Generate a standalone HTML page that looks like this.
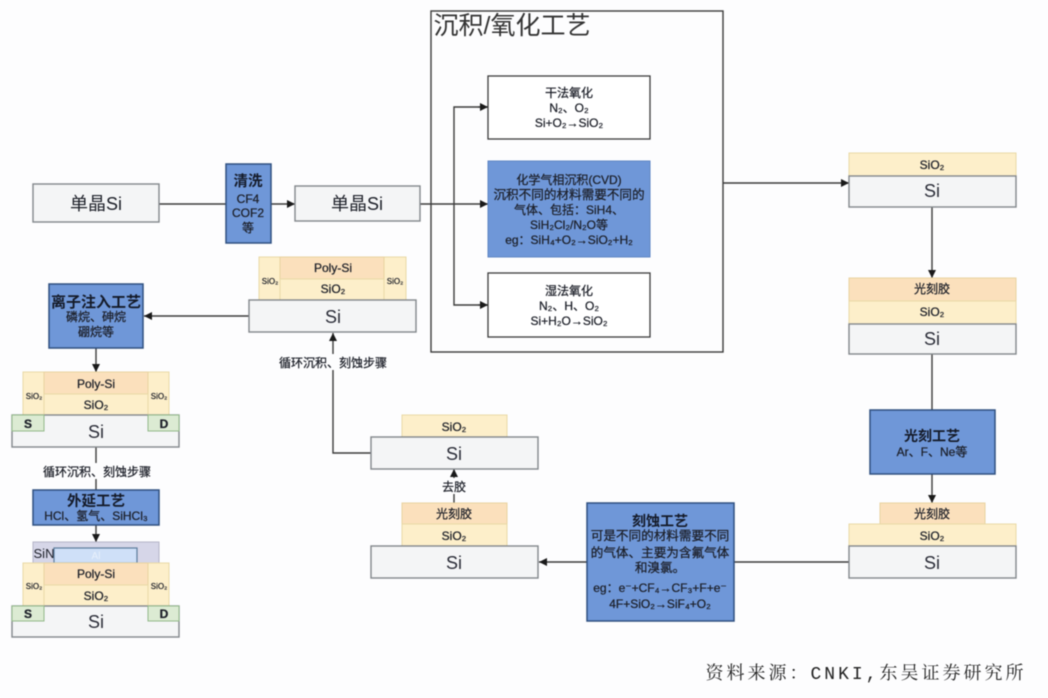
<!DOCTYPE html>
<html>
<head>
<meta charset="utf-8">
<style>
html,body{margin:0;padding:0;background:#fdfdfe}
svg{display:block;filter:blur(.6px)}
text{font-family:"Liberation Sans","Noto Sans CJK SC",sans-serif;text-anchor:middle;fill:#1c1f28}
.si{fill:#f4f5f6;stroke:#83878c;stroke-width:1.4}
.ox{fill:#fdefca;stroke:#e8d9a6;stroke-width:1}
.pr{fill:#fbe0bc;stroke:#e8d3a0;stroke-width:1}
.sd{fill:#dcebd3;stroke:#93b98a;stroke-width:1}
.bl{fill:#6f97d8;stroke:#2f5080;stroke-width:1.5}
.wh{fill:#fff;stroke:#3c3c3c;stroke-width:1.3}
.ln{fill:none;stroke:#3c3c3c;stroke-width:1.4}
.t13{font-size:13px}
.t11{font-size:12px;stroke:#1c1f28;stroke-width:.25}
.t125{font-size:12.6px;stroke:#1c1f28;stroke-width:.25}
.t10{font-size:10px}
.t8{font-size:8px;stroke:#1c1f28;stroke-width:.2}
.t18{font-size:18px;fill:#2b2d38}
.b{font-weight:bold;font-size:14px;fill:#141a28}
</style>
</head>
<body>
<svg width="1048" height="698" viewBox="0 0 1048 698" xmlns="http://www.w3.org/2000/svg">
<defs>
<marker id="a" markerWidth="9" markerHeight="8" refX="8" refY="4" orient="auto" markerUnits="userSpaceOnUse"><path d="M0 0L8 4L0 8Z" fill="#1a1a1a"/></marker>
</defs>
<rect width="1048" height="698" fill="#fdfdfe"/>

<!-- connectors -->
<path class="ln" d="M159 204H226"/>
<path class="ln" d="M271 204H295" marker-end="url(#a)"/>
<path class="ln" d="M420 204H488" marker-end="url(#a)"/>
<path class="ln" d="M488 107H454V305H488"/>
<path class="ln" d="M478 107H488" marker-end="url(#a)"/>
<path class="ln" d="M478 305H488" marker-end="url(#a)"/>
<path class="ln" d="M723 183H849" marker-end="url(#a)"/>
<path class="ln" d="M932 207V278" marker-end="url(#a)"/>
<path class="ln" d="M932 354V410"/>
<path class="ln" d="M932 474V503" marker-end="url(#a)"/>
<path class="ln" d="M849 562H734"/>
<path class="ln" d="M587 562H539" marker-end="url(#a)"/>
<path class="ln" d="M454 503V469" marker-end="url(#a)"/>
<path class="ln" d="M371 453H333V333" marker-end="url(#a)"/>
<path class="ln" d="M249 316H144" marker-end="url(#a)"/>
<path class="ln" d="M96 348V372" marker-end="url(#a)"/>
<path class="ln" d="M96 447V490"/>
<path class="ln" d="M96 525V542" marker-end="url(#a)"/>

<!-- top-left -->
<rect x="33" y="184" width="126" height="38" class="si"/>
<text x="96" y="210" font-size="18">单晶Si</text>
<rect x="226" y="164" width="45" height="79" class="bl"/>
<text x="248" y="186" class="b" style="font-size:14.5px">清洗</text>
<text x="248" y="203" class="t11">CF4</text>
<text x="248" y="217" class="t11">COF2</text>
<text x="248" y="232" class="t11">等</text>
<rect x="295" y="186" width="125" height="35" class="si"/>
<text x="357" y="210" font-size="18">单晶Si</text>

<!-- deposition -->
<rect x="431" y="11" width="292" height="341" fill="none" stroke="#3c3c3c" stroke-width="1.4"/>
<text x="512" y="34" font-size="25" style="fill:#333">沉积/氧化工艺</text>
<rect x="488" y="76" width="162" height="63" class="wh"/>
<text x="569" y="97" class="t11">干法氧化</text>
<text x="569" y="112" class="t11">N₂、O₂</text>
<text x="569" y="127" class="t11">Si+O₂→SiO₂</text>
<rect x="488" y="161" width="162" height="96" fill="#6f97d8" stroke="#5f86c4"/>
<text x="569" y="184" class="t11">化学气相沉积(CVD)</text>
<text x="569" y="199" class="t125">沉积不同的材料需要不同的</text>
<text x="569" y="214" class="t11">气体、包括：SiH4、</text>
<text x="569" y="229" class="t11">SiH₂Cl₂/N₂O等</text>
<text x="569" y="244" class="t11">eg：SiH₄+O₂→SiO₂+H₂</text>
<rect x="488" y="273" width="162" height="64" class="wh"/>
<text x="569" y="295" class="t11">湿法氧化</text>
<text x="569" y="310" class="t11">N₂、H、O₂</text>
<text x="569" y="325" class="t11">Si+H₂O→SiO₂</text>

<!-- right column -->
<rect x="849" y="153" width="167" height="23" class="ox"/>
<text x="932" y="169" class="t11">SiO₂</text>
<rect x="849" y="176" width="167" height="31" class="si"/>
<text x="932" y="197" class="t18">Si</text>

<rect x="849" y="278" width="167" height="23" class="pr"/>
<text x="932" y="293" class="t11">光刻胶</text>
<rect x="849" y="301" width="167" height="23" class="ox"/>
<text x="932" y="316" class="t11">SiO₂</text>
<rect x="849" y="324" width="167" height="30" class="si"/>
<text x="932" y="345" class="t18">Si</text>

<rect x="870" y="410" width="125" height="64" class="bl"/>
<text x="932" y="441" class="b">光刻工艺</text>
<text x="932" y="456" class="t11">Ar、F、Ne等</text>

<rect x="880" y="503" width="105" height="21" class="pr"/>
<text x="932" y="518" class="t11">光刻胶</text>
<rect x="849" y="524" width="167" height="22" class="ox"/>
<text x="932" y="540" class="t11">SiO₂</text>
<rect x="849" y="546" width="167" height="32" class="si"/>
<text x="932" y="569" class="t18">Si</text>

<!-- etch -->
<rect x="587" y="503" width="147" height="118" class="bl"/>
<text x="660" y="526" class="b">刻蚀工艺</text>
<text x="660" y="540" class="t125">可是不同的材料需要不同</text>
<text x="660" y="557" class="t125">的气体、主要为含氟气体</text>
<text x="660" y="572" class="t125">和溴氯。</text>
<text x="660" y="592" class="t11">eg：e⁻+CF₄→CF₃+F+e⁻</text>
<text x="660" y="608" class="t11">4F+SiO₂→SiF₄+O₂</text>

<!-- mid bottom stack -->
<rect x="402" y="503" width="105" height="21" class="pr"/>
<text x="454" y="518" class="t11">光刻胶</text>
<rect x="402" y="524" width="105" height="22" class="ox"/>
<text x="454" y="540" class="t11">SiO₂</text>
<rect x="371" y="546" width="167" height="32" class="si"/>
<text x="454" y="569" class="t18">Si</text>

<rect x="440" y="478" width="28" height="16" fill="#fdfdfe"/>
<text x="454" y="491" class="t11">去胶</text>

<rect x="402" y="415" width="105" height="22" class="ox"/>
<text x="454" y="431" class="t11">SiO₂</text>
<rect x="371" y="437" width="167" height="32" class="si"/>
<text x="454" y="460" class="t18">Si</text>

<rect x="275" y="354" width="116" height="16" fill="#fdfdfe"/>
<text x="333" y="367" class="t11">循环沉积、刻蚀步骤</text>

<!-- top mid stack -->
<rect x="259" y="257" width="21" height="43" class="ox"/>
<rect x="384" y="257" width="22" height="43" class="ox"/>
<rect x="280" y="257" width="104" height="22" class="pr"/>
<rect x="280" y="279" width="104" height="21" class="ox"/>
<text x="333" y="272" class="t11">Poly-Si</text>
<text x="333" y="293" class="t11">SiO₂</text>
<text x="270" y="284" class="t8">SiO₂</text>
<text x="395" y="284" class="t8">SiO₂</text>
<rect x="249" y="300" width="167" height="32" class="si"/>
<text x="333" y="323" class="t18">Si</text>

<!-- ion implant -->
<rect x="49" y="284" width="94" height="64" class="bl"/>
<text x="96" y="307" class="b" style="font-size:15px">离子注入工艺</text>
<text x="96" y="321" class="t11">磷烷、砷烷</text>
<text x="96" y="336" class="t11">硼烷等</text>

<!-- stack 1 -->
<rect x="23" y="372" width="21" height="43" class="ox"/>
<rect x="148" y="372" width="21" height="43" class="ox"/>
<rect x="44" y="372" width="104" height="22" class="pr"/>
<rect x="44" y="394" width="104" height="21" class="ox"/>
<text x="96" y="388" class="t11">Poly-Si</text>
<text x="96" y="409" class="t11">SiO₂</text>
<text x="34" y="399" class="t8">SiO₂</text>
<text x="159" y="399" class="t8">SiO₂</text>
<rect x="12" y="415" width="167" height="32" class="si"/>
<rect x="12" y="415" width="32" height="16" class="sd"/>
<rect x="148" y="415" width="31" height="16" class="sd"/>
<text x="28" y="428" class="t11" style="font-weight:bold">S</text>
<text x="164" y="428" class="t11" style="font-weight:bold">D</text>
<text x="96" y="438" class="t18">Si</text>

<rect x="38" y="463" width="116" height="16" fill="#fdfdfe"/>
<text x="97" y="476" class="t11">循环沉积、刻蚀步骤</text>

<!-- epi -->
<rect x="33" y="490" width="126" height="35" class="bl"/>
<text x="96" y="506" class="b" style="font-size:14.5px">外延工艺</text>
<text x="96" y="520" class="t11">HCl、氢气、SiHCl₃</text>

<rect x="33" y="542" width="126" height="21" fill="#d6d6e8" stroke="#b5b5c8"/>
<text x="44" y="558" class="t13">SiN</text>
<rect x="54" y="548" width="83" height="15" fill="#cfe0f8" stroke="#5c7c9c" stroke-width="1.2"/>
<text x="96" y="559" class="t10" style="fill:#e8f0fb">Al</text>

<!-- stack 2 -->
<rect x="23" y="563" width="21" height="43" class="ox"/>
<rect x="148" y="563" width="21" height="43" class="ox"/>
<rect x="44" y="563" width="104" height="22" class="pr"/>
<rect x="44" y="585" width="104" height="21" class="ox"/>
<text x="96" y="578" class="t11">Poly-Si</text>
<text x="96" y="600" class="t11">SiO₂</text>
<text x="34" y="589" class="t8">SiO₂</text>
<text x="159" y="589" class="t8">SiO₂</text>
<rect x="12" y="606" width="167" height="31" class="si"/>
<rect x="12" y="606" width="32" height="15" class="sd"/>
<rect x="148" y="606" width="31" height="15" class="sd"/>
<text x="28" y="618" class="t11" style="font-weight:bold">S</text>
<text x="164" y="618" class="t11" style="font-weight:bold">D</text>
<text x="96" y="628" class="t18">Si</text>

<!-- source -->
<text x="866" y="679" font-size="18" letter-spacing="3" style="font-family:'Liberation Mono','Noto Serif CJK SC',serif;fill:#222">资料来源：CNKI,东吴证券研究所</text>
</svg>
</body>
</html>
